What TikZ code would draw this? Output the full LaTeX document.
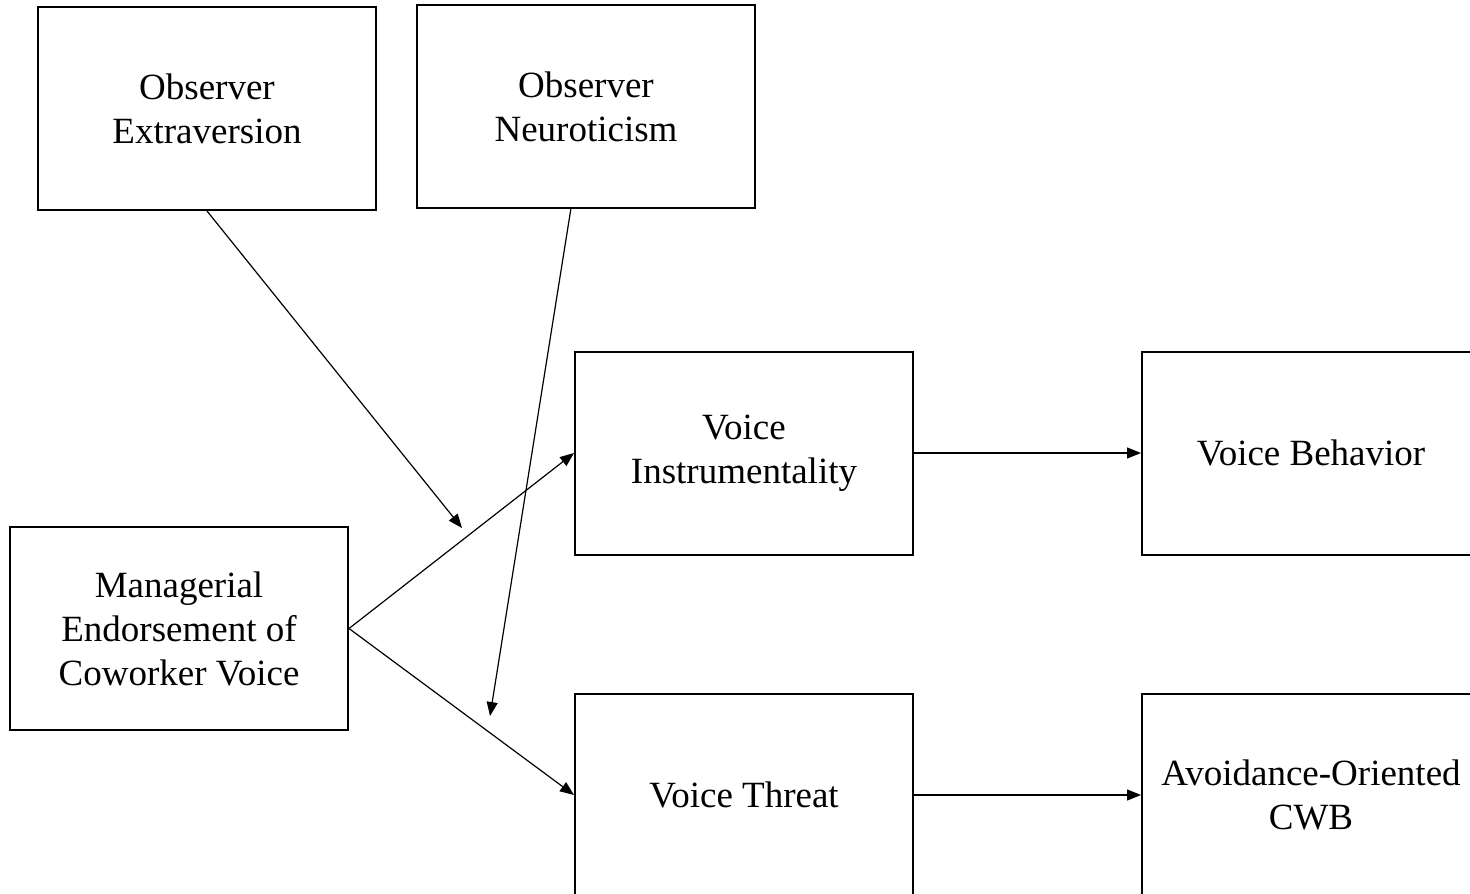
\documentclass[tikz,border=0pt]{standalone}
\usepackage{fontspec}
\setmainfont{Liberation Serif}
\usetikzlibrary{arrows.meta}

\begin{document}
\begin{tikzpicture}[
    x=0.5pt, y=-0.5pt,
    varbox/.style={draw, line width=1pt, minimum width=169pt, minimum height=101.5pt,
        align=center, inner sep=0pt, font=\fontsize{18.5}{22}\selectfont},
    path/.style={line width=0.6pt, -{Triangle[length=7pt,width=5.5pt]}}
]
\clip (0,0) rectangle (1470,893);
\fill[white] (0,0) rectangle (1470,893);

% moderators
\node[varbox] (ext) at (207,108.5) {Observer\\Extraversion};
\node[varbox] (neu) at (586,106.5) {Observer\\Neuroticism};

% predictor, mediators, outcomes
\node[varbox] (man)  at (179,628.5) {Managerial\\Endorsement of\\Coworker Voice};
\node[varbox] (inst) at (744,453) {Voice\\Instrumentality};
\node[varbox] (thr)  at (744,795) {Voice Threat};
\node[varbox] (beh)  at (1311,453) {Voice Behavior};
\node[varbox] (cwb)  at (1311,795) {Avoidance-Oriented\\CWB};

\coordinate (neuout) at (571,208);
\coordinate (modA) at (462,528);
\coordinate (modB) at (490,716);

\draw[path] (man.east) -- (inst.west);
\draw[path] (man.east) -- (thr.west);
\draw[path] (inst.east) -- (beh.west);
\draw[path] (thr.east) -- (cwb.west);
\draw[path] (ext.south) -- (modA);
\draw[path] (neuout) -- (modB);
\end{tikzpicture}
\end{document}
